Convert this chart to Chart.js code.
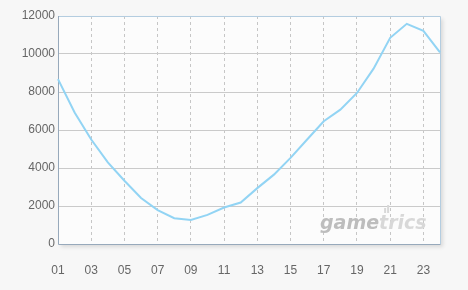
<!DOCTYPE html>
<html>
<head>
<meta charset="utf-8">
<script src="https://cdn.jsdelivr.net/npm/chart.js@4.4.0/dist/chart.umd.min.js"></script>
<style>
    html, body { margin: 0; padding: 0; background: #f7f7f7; }
    #wrap { width: 468px; height: 290px; }
</style>
</head>
<body>
<div id="wrap"><canvas id="hourChart" width="468" height="290"></canvas></div>
<script>
// hours of the day and the values
const hours = ['01', '02', '03', '04', '05', '06', '07', '08', '09', '10', '11', '12',
    '13', '14', '15', '16', '17', '18', '19', '20', '21', '22', '23', '24'];
const users = [8680, 6920, 5500, 4300, 3330, 2420, 1780, 1360, 1270, 1530, 1920, 2180,
    2940, 3650, 4530, 5500, 6460, 7070, 7950, 9230, 10850, 11590, 11220, 10080];
const yTicks = [0, 2000, 4000, 6000, 8000, 10000, 12000];

const tickFont = { family: '"Liberation Sans", Arial, sans-serif', size: 12 };

// plot frame: light fill, soft shadow, bluish border
const frame = {
    id: 'frame',
    beforeDraw(chart) {
        const { ctx, chartArea: a } = chart;
        ctx.save();
        ctx.shadowColor = 'rgba(0,0,0,0.12)';
        ctx.shadowBlur = 4;
        ctx.shadowOffsetX = 3;
        ctx.shadowOffsetY = 3;
        ctx.fillStyle = '#fcfcfc';
        ctx.fillRect(a.left, a.top, a.right - a.left, a.bottom - a.top);
        ctx.restore();
    },
    beforeDatasetsDraw(chart) {
        const { ctx, chartArea: a } = chart;
        ctx.save();
        // watermark
        ctx.font = 'italic bold 19px "DejaVu Sans", sans-serif';
        ctx.textBaseline = 'alphabetic';
        ctx.fillStyle = '#bdbdbd';
        ctx.fillText('game', 320, 229);
        const w = ctx.measureText('game').width;
        ctx.fillStyle = '#d8d8d8';
        ctx.fillText('trics', 320 + w, 229);
        ctx.fillRect(320 + w + 5, 208, 2, 5);
        ctx.fillRect(320 + w + 8, 205, 2, 8);
        // border
        ctx.lineWidth = 1;
        ctx.strokeStyle = '#b4cde0';
        ctx.beginPath();
        ctx.moveTo(a.left, a.top + 0.5);
        ctx.lineTo(a.right + 0.5, a.top + 0.5);
        ctx.lineTo(a.right + 0.5, a.bottom);
        ctx.stroke();
        ctx.strokeStyle = '#97a9bb';
        ctx.beginPath();
        ctx.moveTo(a.left + 0.5, a.top);
        ctx.lineTo(a.left + 0.5, a.bottom + 0.5);
        ctx.lineTo(a.right + 0.5, a.bottom + 0.5);
        ctx.stroke();
        ctx.restore();
    }
};

new Chart(document.getElementById('hourChart'), {
    type: 'line',
    data: {
        labels: hours,
        datasets: [{
            data: users,
            borderColor: '#92d4f4',
            borderWidth: 2,
            pointRadius: 0,
            tension: 0,
            fill: false
        }]
    },
    options: {
        responsive: false,
        animation: false,
        layout: { padding: { top: 16, right: 28, left: 0, bottom: 0 } },
        plugins: { legend: { display: false }, tooltip: { enabled: false } },
        scales: {
            x: {
                offset: false,
                border: { display: false, dash: [3, 3] },
                afterFit: s => { s.height = 46; },
                grid: {
                    color: ctx => (ctx.index > 0 && ctx.index % 2 === 0) ? '#c6c6c6' : 'rgba(0,0,0,0)',
                    drawTicks: false
                },
                ticks: {
                    autoSkip: false,
                    maxRotation: 0,
                    padding: 19,
                    color: '#666',
                    font: tickFont,
                    callback: (v, i) => i % 2 === 0 ? hours[i] : ''
                }
            },
            y: {
                min: 0,
                max: 12000,
                border: { display: false },
                afterFit: s => { s.width = 58; },
                afterBuildTicks: s => { s.ticks = yTicks.map(v => ({ value: v })); },
                grid: {
                    color: ctx => ctx.tick && ctx.tick.value > 0 && ctx.tick.value < 12000 ? '#cacaca' : 'rgba(0,0,0,0)',
                    drawTicks: false
                },
                ticks: {
                    padding: 3,
                    color: '#666',
                    font: tickFont,
                    callback: v => String(v)
                }
            }
        }
    },
    plugins: [frame]
});
</script>
</body>
</html>
